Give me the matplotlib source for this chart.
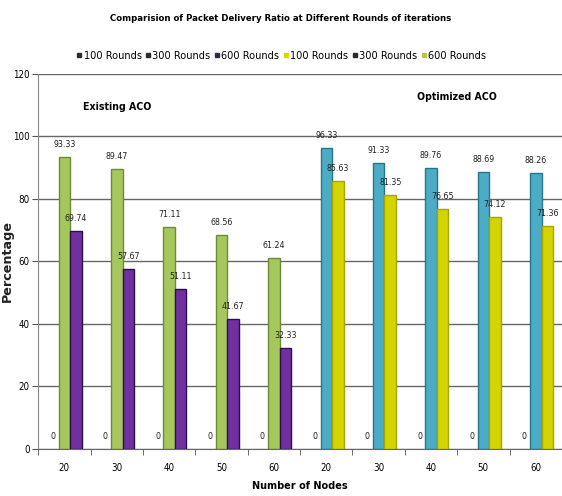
import numpy as np
import matplotlib.pyplot as plt
from matplotlib.lines import Line2D

# prefer a condensed face for the Excel-like narrow text
plt.rcParams['font.family'] = ['DejaVu Sans']
plt.rcParams['font.stretch'] = 'condensed'

# Number of nodes, first five for Existing ACO, last five for Optimized ACO
nodes = ['20', '30', '40', '50', '60', '20', '30', '40', '50', '60']

# Packet delivery ratio (%)
rounds_100 = [0, 0, 0, 0, 0, 0, 0, 0, 0, 0]
existing_300 = [93.33, 89.47, 71.11, 68.56, 61.24]
existing_600 = [69.74, 57.67, 51.11, 41.67, 32.33]
optimized_300 = [96.33, 91.33, 89.76, 88.69, 88.26]
optimized_600 = [85.63, 81.35, 76.65, 74.12, 71.36]

legend_labels = ['100 Rounds', '300 Rounds', '600 Rounds',
                 '100 Rounds', '300 Rounds', '600 Rounds']
legend_colors = ['#2b2b2b', '#2b2b2b', '#33283d', '#d8d600', '#2b2b2b', '#b9c24a']

fig = plt.figure(figsize=(5.62, 4.96), dpi=100)
ax = fig.add_axes([0.068, 0.095, 0.932, 0.756])

x = np.arange(len(nodes))
w = 0.22

def label_bars(bars, vals):
    for b, v in zip(bars, vals):
        ax.annotate('%g' % v if v == 0 else '%.2f' % v,
                    (b.get_x() + b.get_width() / 2, v),
                    xytext=(0, 9), textcoords='offset points',
                    ha='center', va='center', fontsize=6.3, color='#222222')

b0 = ax.bar(x - w, rounds_100, w, color='#9bbb59')
label_bars(b0, rounds_100)

b1 = ax.bar(x[:5], existing_300, w, color='#a5c75e', edgecolor='#6f8a34', linewidth=1)
b2 = ax.bar(x[:5] + w, existing_600, w, color='#7030a0', edgecolor='#2e0f47', linewidth=1)
b3 = ax.bar(x[5:], optimized_300, w, color='#4bacc6', edgecolor='#2a7488', linewidth=1)
b4 = ax.bar(x[5:] + w, optimized_600, w, color='#d4d400', edgecolor='#a6a600', linewidth=1)
label_bars(b1, existing_300)
label_bars(b2, existing_600)
label_bars(b3, optimized_300)
label_bars(b4, optimized_600)

ax.set_xlim(-0.5, 9.5)
ax.set_ylim(0, 120)
ax.set_yticks(np.arange(0, 121, 20))
ax.set_xticks(x)
ax.set_xticklabels(nodes, fontsize=7)
ax.set_xticks(np.arange(-0.5, 9.6, 1), minor=True)
ax.tick_params(axis='x', which='major', length=0, pad=10)
ax.tick_params(axis='x', which='minor', length=4, color='#555555')
ax.tick_params(axis='y', length=4, color='#555555', labelsize=7, pad=2)

ax.set_axisbelow(True)
ax.grid(axis='y', color='#666666', linewidth=1)
ax.spines['right'].set_visible(False)
ax.spines['top'].set_visible(False)
ax.spines['left'].set_color('#888888')
ax.spines['bottom'].set_color('#666666')

ax.set_xlabel('Number of Nodes', fontsize=7.8, fontweight='bold', labelpad=6)
ax.set_ylabel('Percentage', fontsize=9.2, fontweight='bold', fontstretch='normal',
              color='#222222')
ax.yaxis.set_label_coords(-0.047, 0.5)

ax.text(1.0, 109.5, 'Existing ACO', fontsize=7.6, fontweight='bold', ha='center', va='center')
ax.text(7.5, 112.5, 'Optimized ACO', fontsize=7.6, fontweight='bold', ha='center', va='center')

fig.text(0.5, 0.963, 'Comparision of Packet Delivery Ratio at Different Rounds of iterations',
         ha='center', va='center', fontsize=6.8, fontweight='bold')

handles = [Line2D([], [], marker='s', linestyle='', markersize=2.8,
                  markerfacecolor=c, markeredgecolor=c) for c in legend_colors]
fig.legend(handles, legend_labels, loc='center', bbox_to_anchor=(0.5, 0.888),
           ncol=6, frameon=False, fontsize=7.8, handletextpad=0.1,
           columnspacing=0.3, handlelength=0.6)

fig.savefig('out.png', dpi=100)
